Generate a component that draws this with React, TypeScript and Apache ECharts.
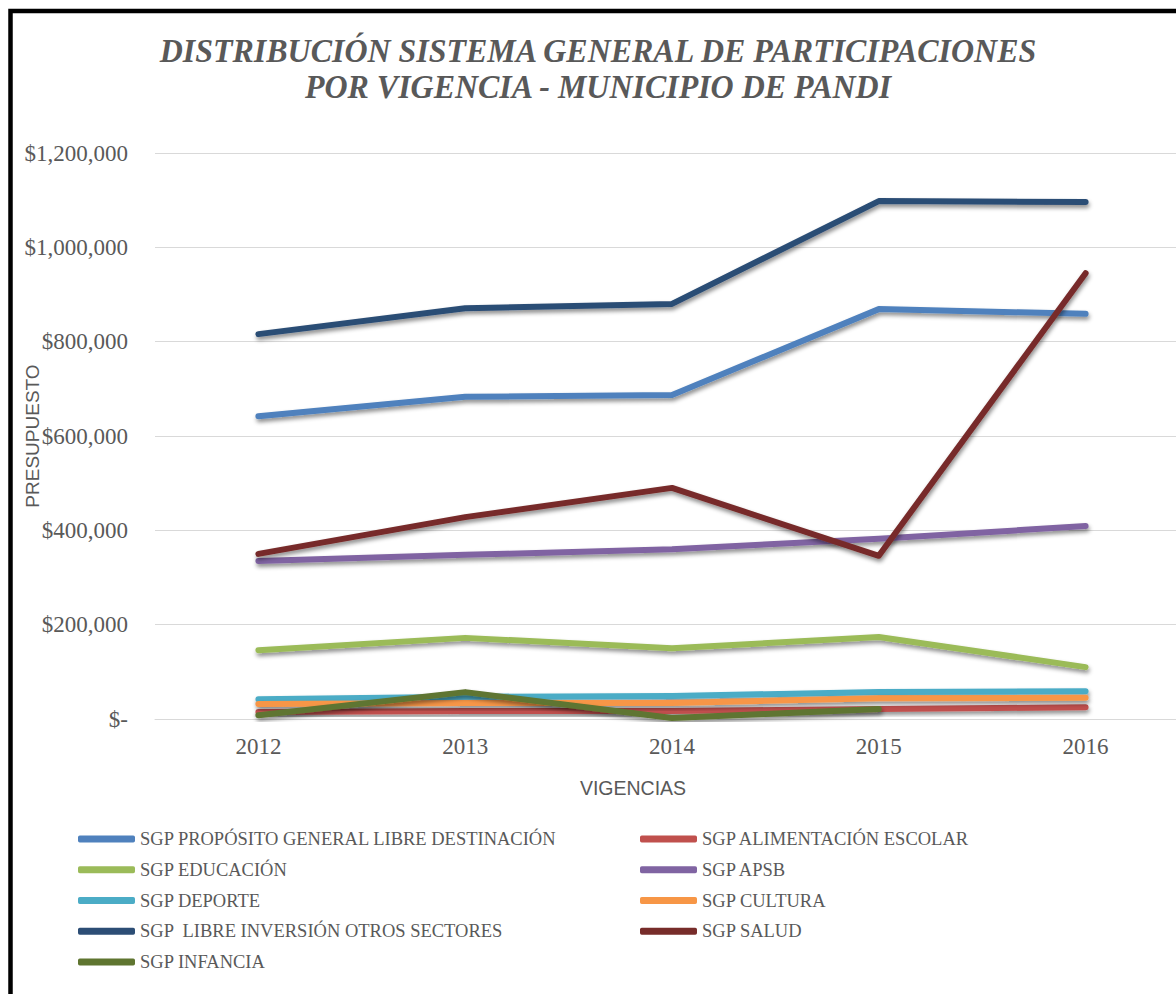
import React, { useEffect, useRef } from "react";
import * as echarts from "echarts";

const years = ["2012", "2013", "2014", "2015", "2016"];

const seriesNames = [
  "SGP PROPÓSITO GENERAL LIBRE DESTINACIÓN",
  "SGP ALIMENTACIÓN ESCOLAR",
  "SGP EDUCACIÓN",
  "SGP APSB",
  "SGP DEPORTE",
  "SGP CULTURA",
  "SGP  LIBRE INVERSIÓN OTROS SECTORES",
  "SGP SALUD",
  "SGP INFANCIA",
];

const proposito = [642000, 683000, 687000, 869000, 859000];
const alimentacion = [15000, 17000, 17000, 21000, 25000];
const educacion = [146000, 172000, 150000, 174000, 110000];
const apsb = [335000, 348000, 360000, 382000, 409000];
const deporte = [42000, 47000, 49000, 57000, 59000];
const cultura = [32000, 34000, 34000, 44000, 45000];
const libreInversion = [816000, 871000, 880000, 1098000, 1096000];
const salud = [350000, 428000, 490000, 346000, 945000];
const infancia = [8000, 57000, 2000, 21000, null];

const seriesValues = [
  proposito,
  alimentacion,
  educacion,
  apsb,
  deporte,
  cultura,
  libreInversion,
  salud,
  infancia,
];

const colors = [
  "#4F81BD",
  "#C0504D",
  "#9BBB59",
  "#8064A2",
  "#4BACC6",
  "#F79646",
  "#2C4D75",
  "#772C2A",
  "#5F7530",
];

const titleLine1 = "DISTRIBUCIÓN SISTEMA GENERAL DE PARTICIPACIONES";
const titleLine2 = "POR VIGENCIA - MUNICIPIO DE PANDI";

export default function App() {
  const ref = useRef<HTMLDivElement>(null);

  useEffect(() => {
    if (!ref.current) return;
    const chart = echarts.init(ref.current, null, { renderer: "svg" });

    const legendLeftNames = [0, 2, 4, 6, 8].map((i) => seriesNames[i]);
    const legendRightNames = [1, 3, 5, 7].map((i) => seriesNames[i]);

    const legendCommon = {
      orient: "vertical" as const,
      top: 824,
      itemWidth: 57,
      itemHeight: 7,
      itemGap: 10.75,
      icon: "roundRect",
      textStyle: {
        fontFamily: "Liberation Serif",
        fontSize: 18.5,
        color: "#595959",
        lineHeight: 20,
      },
    };

    const titleStyle = {
      fontFamily: "Liberation Serif",
      fontStyle: "italic",
      fontWeight: "bold",
      fontSize: 34,
      fill: "#595959",
      align: "center",
      verticalAlign: "middle",
    };

    chart.setOption({
      animation: false,
      color: colors,
      backgroundColor: "#ffffff",
      grid: { left: 155, top: 153, height: 566, width: 1034 },
      legend: [
        { ...legendCommon, left: 73, data: legendLeftNames },
        { ...legendCommon, left: 635, data: legendRightNames },
      ],
      xAxis: {
        type: "category",
        data: years,
        boundaryGap: true,
        axisLine: { lineStyle: { color: "#D9D9D9", width: 1 } },
        axisTick: { show: false },
        axisLabel: {
          margin: 16,
          fontFamily: "Liberation Serif",
          fontSize: 23,
          color: "#595959",
        },
      },
      yAxis: {
        type: "value",
        min: 0,
        max: 1200000,
        interval: 200000,
        axisLine: { show: false },
        axisTick: { show: false },
        splitLine: { lineStyle: { color: "#D9D9D9", width: 1 } },
        axisLabel: {
          margin: 27,
          fontFamily: "Liberation Serif",
          fontSize: 23,
          color: "#595959",
          formatter: (v: number) =>
            v === 0 ? "$-" : "$" + v.toLocaleString("en-US"),
        },
      },
      series: seriesNames.map((name, i) => ({
        name,
        type: "line",
        data: seriesValues[i],
        showSymbol: false,
        symbol: "none",
        connectNulls: false,
        lineStyle: {
          width: 6,
          color: colors[i],
          cap: "round",
          join: "round",
          shadowColor: "rgba(0,0,0,0.45)",
          shadowBlur: 4,
          shadowOffsetX: 1,
          shadowOffsetY: 3,
        },
        itemStyle: { color: colors[i] },
      })),
      graphic: [
        {
          type: "rect",
          shape: { x: 10.5, y: 11, width: 1300, height: 1100 },
          style: { fill: "none", stroke: "#000000", lineWidth: 4.5 },
          silent: true,
        },
        {
          type: "text",
          x: 598,
          y: 51,
          scaleX: 0.94,
          style: { ...titleStyle, text: titleLine1 },
        },
        {
          type: "text",
          x: 598,
          y: 87,
          scaleX: 0.94,
          style: { ...titleStyle, text: titleLine2 },
        },
        {
          type: "text",
          x: 32,
          y: 436,
          rotation: Math.PI / 2,
          style: {
            text: "PRESUPUESTO",
            fontFamily: "Liberation Sans",
            fontSize: 19,
            fill: "#595959",
            align: "center",
            verticalAlign: "middle",
          },
        },
        {
          type: "text",
          x: 633,
          y: 788,
          style: {
            text: "VIGENCIAS",
            fontFamily: "Liberation Sans",
            fontSize: 19.5,
            fill: "#595959",
            align: "center",
            verticalAlign: "middle",
          },
        },
      ],
    });

    return () => chart.dispose();
  }, []);

  return (
    <div
      style={{
        position: "absolute",
        left: 0,
        top: 0,
        width: 1176,
        height: 994,
        overflow: "hidden",
      }}
    >
      <div ref={ref} style={{ width: 1200, height: 994 }} />
    </div>
  );
}
